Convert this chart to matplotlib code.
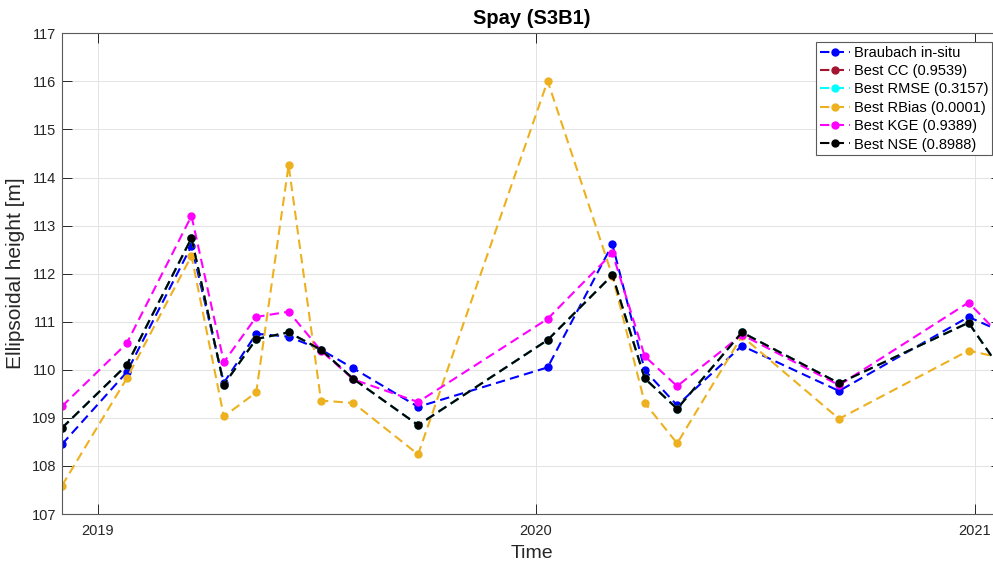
import numpy as np
import pandas as pd
import matplotlib
matplotlib.use("Agg")
import matplotlib.pyplot as plt
import matplotlib.dates as mdates

plt.rcParams['font.family'] = ['Liberation Sans', 'DejaVu Sans']

# Sentinel-3B passes over Spay (27-day repeat cycle)
dates = ['2018-12-02', '2019-01-25', '2019-03-20', '2019-04-16', '2019-05-13',
         '2019-06-09', '2019-07-06', '2019-08-02', '2019-09-25', '2020-01-11',
         '2020-03-05', '2020-04-01', '2020-04-28', '2020-06-21', '2020-09-10',
         '2020-12-27', '2021-01-23']

insitu = [108.45, 109.95, 112.58, 109.73, 110.75, 110.69, 110.42, 110.03, 109.23,
          110.05, 112.61, 109.99, 109.26, 110.50, 109.56, 111.10, 110.80]
best_cc = [108.79, 110.10, 112.74, 109.69, 110.64, 110.78, 110.42, 109.81, 108.85,
           110.62, 111.97, 109.82, 109.19, 110.78, 109.72, 110.98, 110.00]
best_rmse = [108.79, 110.10, 112.74, 109.69, 110.64, 110.78, 110.42, 109.81, 108.85,
             110.62, 111.97, 109.82, 109.19, 110.78, 109.72, 110.98, 110.00]
best_rbias = [107.59, 109.82, 112.37, 109.03, 109.53, 114.26, 109.36, 109.31, 108.24,
              116.01, 111.95, 109.31, 108.47, 110.70, 108.98, 110.40, 110.25]
best_kge = [109.24, 110.55, 113.20, 110.16, 111.10, 111.21, 110.40, 109.80, 109.33,
            111.06, 112.43, 110.28, 109.66, 110.73, 109.68, 111.40, 110.70]
best_nse = [108.79, 110.10, 112.74, 109.69, 110.64, 110.78, 110.42, 109.81, 108.85,
            110.62, 111.97, 109.82, 109.19, 110.78, 109.72, 110.98, 110.00]

labels = ['Braubach in-situ', 'Best CC (0.9539)', 'Best RMSE (0.3157)',
          'Best RBias (0.0001)', 'Best KGE (0.9389)', 'Best NSE (0.8988)']
colors = ['#0000ff', '#a2142f', '#00ffff', '#edb120', '#ff00ff', '#000000']

t = pd.to_datetime(dates)
series = [insitu, best_cc, best_rmse, best_rbias, best_kge, best_nse]

fig = plt.figure(figsize=(9.93, 5.63), dpi=100)
ax = fig.add_axes([0.0624, 0.087, 0.9456, 0.8538])

for vals, col, lab in zip(series, colors, labels):
    ax.plot(t, vals, linestyle=(0, (4.5, 2.5)), color=col, linewidth=1.5,
            marker='o', markersize=5, label=lab)

ax.set_xlim(t[0], t[-1])
ax.set_ylim(107, 117)
ax.set_yticks(np.arange(107, 118, 1))
ax.xaxis.set_major_locator(mdates.YearLocator())
ax.xaxis.set_major_formatter(mdates.DateFormatter('%Y'))

ax.grid(True, color='#e3e3e3', linewidth=0.7)
ax.set_axisbelow(True)
ax.tick_params(direction='in', length=7, width=0.7, colors='#262626',
               labelsize=10.5, top=True, right=True)
ax.tick_params(axis='y', pad=4)
ax.tick_params(axis='x', pad=7)
for s in ax.spines.values():
    s.set_color('#5a5a5a')
    s.set_linewidth(0.8)
ax.spines['right'].set_visible(False)

ax.set_title('Spay (S3B1)', fontsize=14.5, fontweight='bold', pad=7)
ax.set_xlabel('Time', fontsize=14, color='#262626', labelpad=5)
ax.set_ylabel('Ellipsoidal height [m]', fontsize=15, color='#262626', labelpad=5)

leg = ax.legend(loc='upper right', fontsize=10.5, fancybox=False, framealpha=1,
                edgecolor='#5a5a5a', borderaxespad=0.6, handlelength=2.05,
                labelspacing=0.3, handletextpad=0.3, borderpad=0.25)
leg.get_frame().set_linewidth(0.8)

fig.savefig('out.png', dpi=100)
